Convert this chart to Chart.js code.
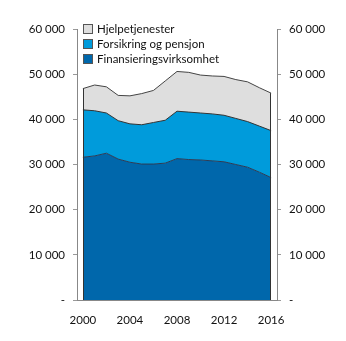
<!DOCTYPE html>
<html>
<head>
<meta charset="utf-8">
<script src="https://cdn.jsdelivr.net/npm/chart.js@4.4.1/dist/chart.umd.min.js"></script>
<style>
  html, body { margin: 0; padding: 0; background: #fff; }
  #wrap { position: relative; width: 346px; height: 341px; }
  #legend { position: absolute; left: 83px; top: 21px; font-family: Lato, sans-serif; font-size: 11.5px; color: #111; }
  .item { display: flex; align-items: center; height: 15px; }
  .box { width: 8px; height: 8px; margin-right: 4px; border: 1px solid #555; }
</style>
</head>
<body>
<div id="wrap">
  <canvas id="chart" width="346" height="341"></canvas>
  <div id="legend"></div>
</div>
<script>
const years = ["2000", "2001", "2002", "2003", "2004", "2005", "2006", "2007", "2008",
  "2009", "2010", "2011", "2012", "2013", "2014", "2015", "2016"];

const finansiering = [31600, 31900, 32500, 31200, 30500, 30100, 30100, 30300, 31300,
  31100, 31000, 30800, 30600, 30000, 29400, 28300, 27100];
const forsikring = [10500, 10000, 8900, 8500, 8500, 8700, 9200, 9500, 10500,
  10500, 10400, 10400, 10300, 10200, 10100, 10200, 10400];
const hjelpetjenester = [4700, 5700, 5800, 5600, 6200, 6900, 7100, 8700, 8800,
  8800, 8400, 8400, 8600, 8600, 8800, 8500, 8300];

const yTicks = [0, 10000, 20000, 30000, 40000, 50000, 60000];

const chartCanvas = document.getElementById("chart");
const legendDiv = document.getElementById("legend");

const fontSpec = { family: "Lato", size: 11.5 };

function formatTick(value) {
  if (value === 0) return "-";
  return String(value).replace(/\B(?=(\d{3})+(?!\d))/g, " ");
}

// dark vertical edges at each end of the stacked areas
const edgeLines = {
  id: "edgeLines",
  afterDatasetsDraw(chart) {
    const ctx = chart.ctx;
    const x = chart.scales.x;
    const y = chart.scales.y;
    const last = years.length - 1;
    const topFirst = finansiering[0] + forsikring[0] + hjelpetjenester[0];
    const topLast = finansiering[last] + forsikring[last] + hjelpetjenester[last];
    ctx.save();
    ctx.strokeStyle = "#333";
    ctx.lineWidth = 1;
    ctx.beginPath();
    ctx.moveTo(Math.round(x.getPixelForValue(0)) + 0.5, y.getPixelForValue(0));
    ctx.lineTo(Math.round(x.getPixelForValue(0)) + 0.5, y.getPixelForValue(topFirst));
    ctx.moveTo(Math.round(x.getPixelForValue(last)) - 0.5, y.getPixelForValue(0));
    ctx.lineTo(Math.round(x.getPixelForValue(last)) - 0.5, y.getPixelForValue(topLast));
    ctx.stroke();
    ctx.restore();
  },
};

function yAxis(position) {
  return {
    position: position,
    stacked: true,
    min: 0,
    max: 60000,
    afterBuildTicks: (scale) => {
      scale.ticks = yTicks.map((v) => ({ value: v }));
    },
    afterFit: (scale) => {
      scale.width = position === "left" ? 77 : 69;
    },
    border: { display: true, color: "#888", width: 1 },
    grid: { drawOnChartArea: false, drawTicks: true, tickLength: 4, color: "#999" },
    ticks: {
      padding: 8,
      color: "#111",
      font: fontSpec,
      callback: (value) => formatTick(value),
    },
  };
}

const chart = new Chart(chartCanvas.getContext("2d"), {
  type: "line",
  data: {
    labels: years,
    datasets: [
      {
        label: "Finansieringsvirksomhet",
        data: finansiering,
        backgroundColor: "#0067ab",
        borderColor: "#2a3b55",
        borderWidth: 1,
        fill: "origin",
        pointRadius: 0,
        tension: 0,
      },
      {
        label: "Forsikring og pensjon",
        data: forsikring,
        backgroundColor: "#009bdb",
        borderColor: "#333",
        borderWidth: 1,
        fill: "-1",
        pointRadius: 0,
        tension: 0,
      },
      {
        label: "Hjelpetjenester",
        data: hjelpetjenester,
        backgroundColor: "#dedede",
        borderColor: "#444",
        borderWidth: 1,
        fill: "-1",
        pointRadius: 0,
        tension: 0,
      },
    ],
  },
  options: {
    responsive: false,
    animation: false,
    layout: { padding: { top: 29, bottom: 0, left: 0, right: 0 } },
    plugins: {
      legend: { display: false },
      tooltip: { enabled: false },
    },
    scales: {
      x: {
        offset: true,
        afterFit: (scale) => {
          scale.height = 41;
        },
        border: { display: true, color: "#888", width: 1 },
        grid: { display: false },
        ticks: {
          autoSkip: false,
          maxRotation: 0,
          padding: 5,
          color: "#111",
          font: fontSpec,
          callback: (value, index) => (index % 4 === 0 ? years[index] : ""),
        },
      },
      y: yAxis("left"),
      y2: yAxis("right"),
    },
  },
  plugins: [edgeLines],
});

// legend inside the plot, topmost series first
chart.data.datasets.slice().reverse().forEach((dataset) => {
  const item = document.createElement("div");
  item.classList.add("item");
  item.innerHTML = `<span class="box" style="background:${dataset.backgroundColor}"></span><span>${dataset.label}</span>`;
  legendDiv.appendChild(item);
});
</script>
</body>
</html>
